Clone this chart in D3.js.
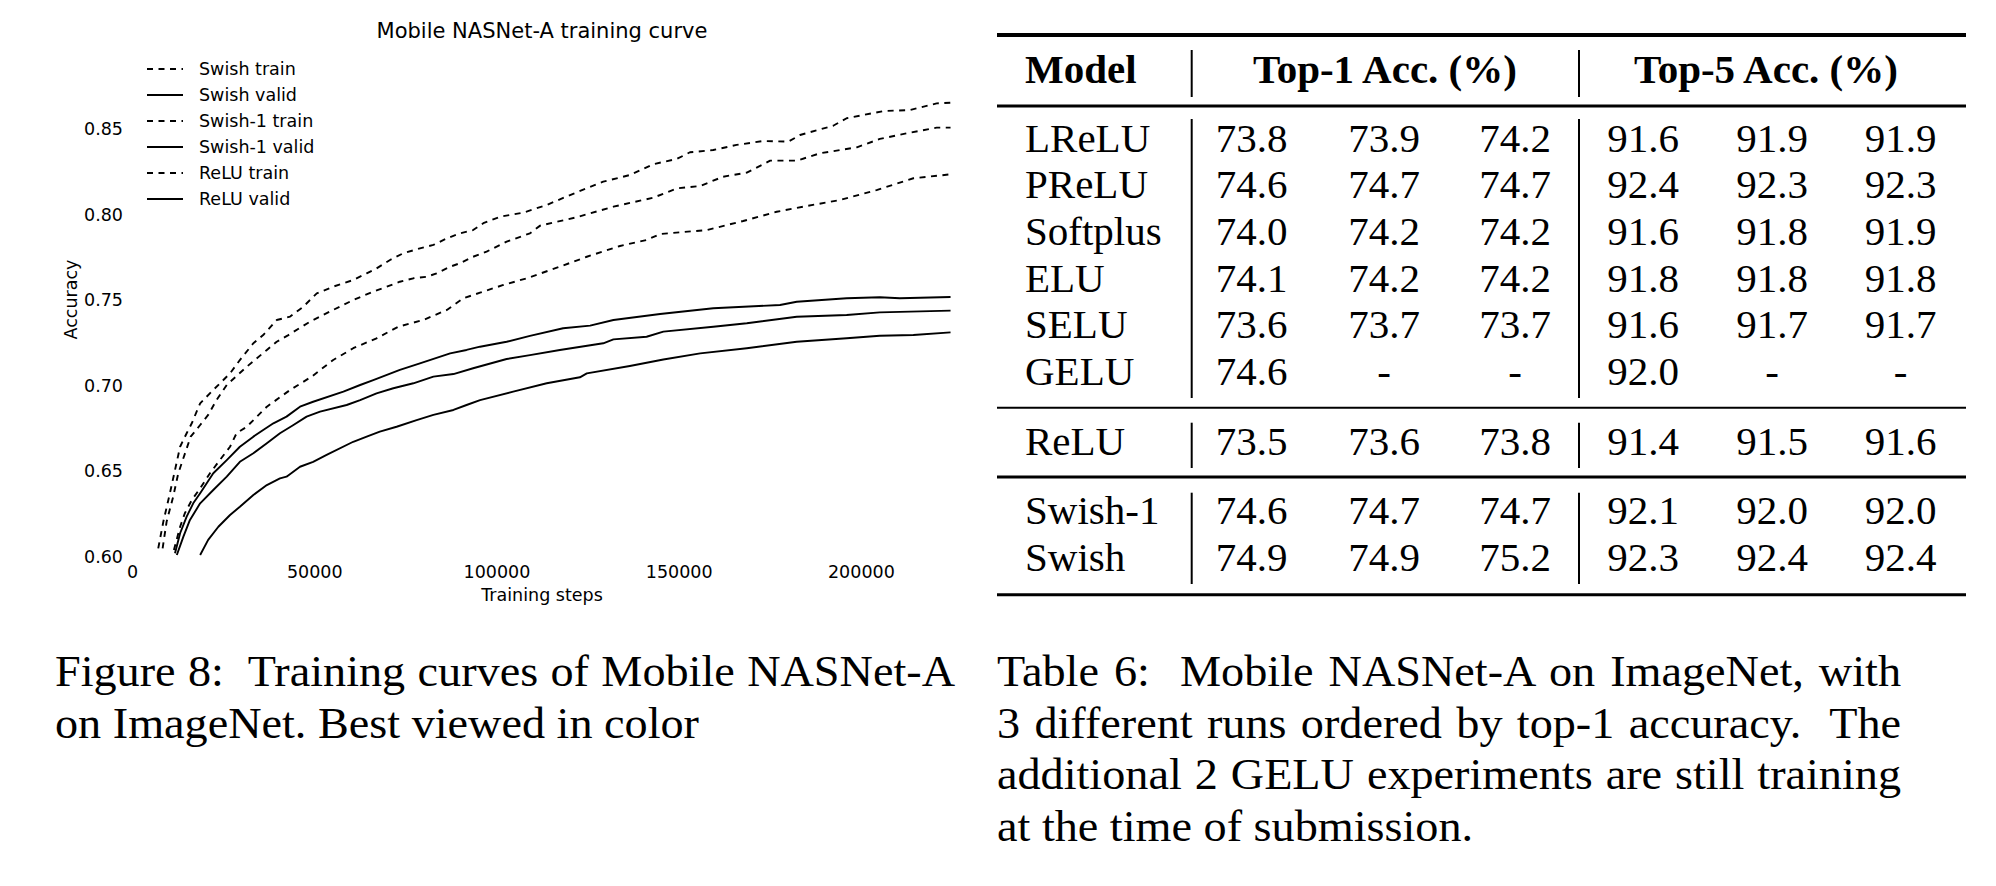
<!DOCTYPE html>
<html>
<head>
<meta charset="utf-8">
<script src="https://cdn.jsdelivr.net/npm/d3@7"></script>
<style>
  html, body { margin: 0; padding: 0; background: #fff; }
  svg { display: block; }
</style>
</head>
<body>
<svg id="fig" width="1996" height="886"></svg>
<script>
// ---------------- DATA ----------------
const xTicks = [0, 50000, 100000, 150000, 200000];
const yTicks = [0.60, 0.65, 0.70, 0.75, 0.80, 0.85];

const swishTrain = [[7200,.6045],[8600,.6201],[10400,.6367],[11800,.6503],[13200,.6639],[15000,.6718],[16400,.6776],[18700,.6893],[22300,.6971],[26900,.7068],[29600,.7146],[33300,.7244],[36000,.7292],[39700,.7380],[43400,.7400],[47000,.7458],[50700,.7536],[55200,.7575],[60700,.7614],[64400,.7653],[67100,.7682],[70800,.7731],[74400,.7770],[79000,.7799],[82700,.7819],[86400,.7858],[90000,.7887],[93600,.7906],[96400,.7946],[101000,.7984],[107400,.8008],[113800,.8053],[120200,.8111],[129300,.8189],[136600,.8228],[143000,.8291],[149500,.8322],[153100,.8361],[159500,.8374],[165900,.8404],[173200,.8427],[180100,.8423],[183300,.8462],[192400,.8516],[196100,.8560],[206200,.8602],[213500,.8608],[220800,.8647],[224600,.8651]];
const swishValid = [[11800,.6016],[13200,.6133],[15000,.6230],[16800,.6308],[18700,.6367],[22300,.6484],[26000,.6561],[29600,.6639],[33300,.6698],[36000,.6737],[38800,.6776],[42400,.6815],[46100,.6873],[49700,.6902],[58000,.6961],[62600,.7000],[66200,.7029],[73500,.7088],[79000,.7127],[87300,.7185],[91800,.7205],[95500,.7224],[102800,.7253],[109200,.7287],[118300,.7332],[125700,.7347],[132100,.7380],[144900,.7415],[159500,.7449],[177800,.7468],[182400,.7487],[196100,.7507],[205200,.7513],[210700,.7507],[224600,.7515]];
const swish1Train = [[8400,.6045],[9500,.6201],[11300,.6347],[12700,.6484],[16100,.6698],[18700,.6766],[20900,.6825],[23200,.6912],[26000,.7000],[31500,.7107],[37000,.7205],[39700,.7253],[42900,.7292],[48800,.7370],[55200,.7439],[60700,.7497],[66200,.7546],[69900,.7575],[73500,.7604],[77200,.7624],[80900,.7633],[83600,.7653],[87300,.7692],[90000,.7712],[93600,.7750],[97300,.7780],[102800,.7838],[109200,.7887],[112000,.7932],[122000,.7981],[132100,.8043],[143000,.8095],[149500,.8150],[155900,.8164],[162200,.8218],[168700,.8242],[175100,.8312],[182400,.8312],[188800,.8355],[198900,.8390],[205200,.8439],[212600,.8472],[220800,.8505],[224600,.8505]];
const swish1Valid = [[12300,.6006],[14100,.6113],[15900,.6211],[18700,.6308],[22300,.6386],[26000,.6464],[29600,.6551],[33300,.6601],[37000,.6659],[40600,.6718],[44300,.6766],[47900,.6815],[51600,.6844],[58900,.6883],[62600,.6912],[67100,.6951],[71700,.6981],[77200,.7010],[82700,.7049],[88200,.7064],[93600,.7098],[102800,.7152],[109200,.7175],[117400,.7205],[129300,.7244],[132100,.7267],[141200,.7282],[145800,.7312],[159500,.7341],[168700,.7361],[182400,.7399],[196100,.7409],[205200,.7425],[224600,.7435]];
const reluTrain = [[11500,.6035],[13200,.6171],[14500,.6250],[16400,.6327],[18700,.6396],[21400,.6484],[24100,.6561],[26900,.6639],[28700,.6718],[31500,.6756],[37000,.6873],[43400,.6971],[49300,.7049],[55200,.7146],[60700,.7215],[67100,.7273],[73100,.7341],[79900,.7380],[86400,.7439],[90900,.7507],[95500,.7540],[101900,.7585],[108300,.7624],[117400,.7692],[124800,.7750],[133900,.7813],[141200,.7848],[144900,.7883],[157700,.7906],[167700,.7959],[176900,.8013],[184200,.8043],[194300,.8082],[204300,.8140],[214400,.8209],[224600,.8232]];
const reluValid = [[18700,.6006],[20900,.6094],[23700,.6171],[26900,.6240],[29600,.6288],[33300,.6357],[37000,.6415],[40600,.6454],[42400,.6464],[46100,.6522],[49700,.6551],[53400,.6591],[60700,.6668],[64400,.6698],[68000,.6727],[72600,.6756],[78100,.6795],[82700,.6825],[88200,.6854],[91800,.6883],[95500,.6912],[104600,.6961],[113800,.7010],[122900,.7045],[124800,.7068],[136600,.7111],[145800,.7149],[155900,.7185],[168700,.7215],[182400,.7253],[196100,.7273],[205200,.7288],[214400,.7292],[224600,.7308]];

const seriesNames = ["Swish train", "Swish valid", "Swish-1 train", "Swish-1 valid", "ReLU train", "ReLU valid"];
const seriesData = [swishTrain, swishValid, swish1Train, swish1Valid, reluTrain, reluValid];
const seriesDashed = [true, false, true, false, true, false];

const tableHeader = ["Model", "Top-1 Acc. (%)", "Top-5 Acc. (%)"];
const modelsA = ["LReLU", "PReLU", "Softplus", "ELU", "SELU", "GELU"];
const modelsB = ["ReLU"];
const modelsC = ["Swish-1", "Swish"];
const top1 = [[73.8,73.9,74.2],[74.6,74.7,74.7],[74.0,74.2,74.2],[74.1,74.2,74.2],[73.6,73.7,73.7],[74.6,null,null],[73.5,73.6,73.8],[74.6,74.7,74.7],[74.9,74.9,75.2]];
const top5 = [[91.6,91.9,91.9],[92.4,92.3,92.3],[91.6,91.8,91.9],[91.8,91.8,91.8],[91.6,91.7,91.7],[92.0,null,null],[91.4,91.5,91.6],[92.1,92.0,92.0],[92.3,92.4,92.4]];

const figCaption = ["Figure 8:  Training curves of Mobile NASNet-A", "on ImageNet. Best viewed in color"];
const tabCaption = ["Table 6:  Mobile NASNet-A on ImageNet, with", "3 different runs ordered by top-1 accuracy.  The", "additional 2 GELU experiments are still training", "at the time of submission."];

// ---------------- CHART ----------------
const svg = d3.select("#fig");
svg.append("rect").attr("width", 1996).attr("height", 886).attr("fill", "#fff");

const sans = "DejaVu Sans, sans-serif";
const serif = "Liberation Serif, Times New Roman, serif";

const x = d3.scaleLinear().domain([0, 225000]).range([132, 952]);
const y = d3.scaleLinear().domain([0.6, 0.9]).range([556, 43]);

svg.append("defs").append("clipPath").attr("id", "plotclip")
  .append("rect").attr("x", x.range()[0]).attr("y", y.range()[1])
  .attr("width", x.range()[1] - x.range()[0] + 2).attr("height", y.range()[0] - y.range()[1]);

const line = d3.line().x(d => x(d[0])).y(d => y(d[1]));
const gLines = svg.append("g").attr("clip-path", "url(#plotclip)");
seriesData.forEach((s, i) => {
  gLines.append("path").datum(s)
    .attr("d", line)
    .attr("fill", "none")
    .attr("stroke", "#000")
    .attr("stroke-width", 1.9)
    .attr("stroke-linejoin", "round")
    .attr("stroke-dasharray", seriesDashed[i] ? "6,5.5" : null);
});

// axes (no spines, no tick marks)
const xAxis = d3.axisBottom(x).tickValues(xTicks).tickFormat(d3.format("d")).tickSize(0).tickPadding(0);
const gx = svg.append("g").attr("transform", `translate(0,${y(0.6)})`).call(xAxis);
gx.select(".domain").remove();
gx.selectAll("text").attr("y", 22).attr("dy", null)
  .attr("font-family", sans).attr("font-size", 17.5).attr("fill", "#000");

const yAxis = d3.axisLeft(y).tickValues(yTicks).tickFormat(d3.format(".2f")).tickSize(0).tickPadding(9);
const gy = svg.append("g").attr("transform", `translate(${x(0)},0)`).call(yAxis);
gy.select(".domain").remove();
gy.selectAll("text").attr("dy", "0.36em")
  .attr("font-family", sans).attr("font-size", 17.5).attr("fill", "#000");

svg.append("text").attr("x", (x.range()[0] + x.range()[1]) / 2).attr("y", 38)
  .attr("text-anchor", "middle").attr("font-family", sans).attr("font-size", 21)
  .text("Mobile NASNet-A training curve");

svg.append("text").attr("x", (x.range()[0] + x.range()[1]) / 2).attr("y", 601)
  .attr("text-anchor", "middle").attr("font-family", sans).attr("font-size", 17.5)
  .text("Training steps");

svg.append("text").attr("transform", `translate(77,${(y.range()[0] + y.range()[1]) / 2}) rotate(-90)`)
  .attr("text-anchor", "middle").attr("font-family", sans).attr("font-size", 17.5)
  .text("Accuracy");

// legend
const legend = svg.append("g");
seriesNames.forEach((n, i) => {
  const yy = 69 + i * 26;
  legend.append("line").attr("x1", 147).attr("x2", 183).attr("y1", yy).attr("y2", yy)
    .attr("stroke", "#000").attr("stroke-width", 1.9)
    .attr("stroke-dasharray", seriesDashed[i] ? "6,5.5" : null);
  legend.append("text").attr("x", 199).attr("y", yy).attr("dy", "0.36em")
    .attr("font-family", sans).attr("font-size", 17.5).text(n);
});

// ---------------- TABLE ----------------
const tab = svg.append("g").attr("font-family", serif).attr("font-size", 41).attr("fill", "#000");
const ruleX1 = 997, ruleX2 = 1966;
const rules = [[35, 4], [106, 3], [407.7, 2], [477, 3], [594.7, 3]];
rules.forEach(r => tab.append("line").attr("x1", ruleX1).attr("x2", ruleX2)
  .attr("y1", r[0]).attr("y2", r[0]).attr("stroke", "#000").attr("stroke-width", r[1]));

const vbars = [[50, 97], [119, 398], [422.7, 468], [492.7, 584]];
[1191.7, 1579].forEach(vx => vbars.forEach(v => tab.append("line")
  .attr("x1", vx).attr("x2", vx).attr("y1", v[0]).attr("y2", v[1])
  .attr("stroke", "#000").attr("stroke-width", 2)));

const modelX = 1025;
const colX = [1251.5, 1384, 1515, 1643, 1772, 1900.5];
tab.append("text").attr("x", modelX).attr("y", 83).attr("font-weight", "bold").text(tableHeader[0]);
tab.append("text").attr("x", 1385).attr("y", 83).attr("font-weight", "bold").attr("text-anchor", "middle").text(tableHeader[1]);
tab.append("text").attr("x", 1766).attr("y", 83).attr("font-weight", "bold").attr("text-anchor", "middle").text(tableHeader[2]);

const allModels = modelsA.concat(modelsB, modelsC);
const rowY = [151.7, 198.3, 244.9, 291.5, 338.1, 384.7, 455, 524, 570.5];
const fmt = v => v === null ? "-" : v.toFixed(1);
allModels.forEach((m, i) => {
  tab.append("text").attr("x", modelX).attr("y", rowY[i]).text(m);
  const vals = top1[i].concat(top5[i]);
  vals.forEach((v, j) => tab.append("text").attr("x", colX[j]).attr("y", rowY[i])
    .attr("text-anchor", "middle").text(fmt(v)));
});

// ---------------- CAPTIONS ----------------
const capScaleX = 1.05;
function caption(lines, x0, width) {
  lines.forEach((t, i) => {
    const el = svg.append("text")
      .attr("transform", `translate(${x0},${686 + i * 51.7}) scale(${capScaleX},1)`)
      .attr("font-family", serif).attr("font-size", 44).attr("xml:space", "preserve").text(t);
    if (i < lines.length - 1) {
      const w = el.node().getComputedTextLength();
      const spaces = (t.match(/ /g) || []).length;
      if (spaces > 0) el.attr("word-spacing", (width / capScaleX - w) / spaces);
    }
  });
}
caption(figCaption, 55, 900);
caption(tabCaption, 997, 904);
</script>
</body>
</html>
